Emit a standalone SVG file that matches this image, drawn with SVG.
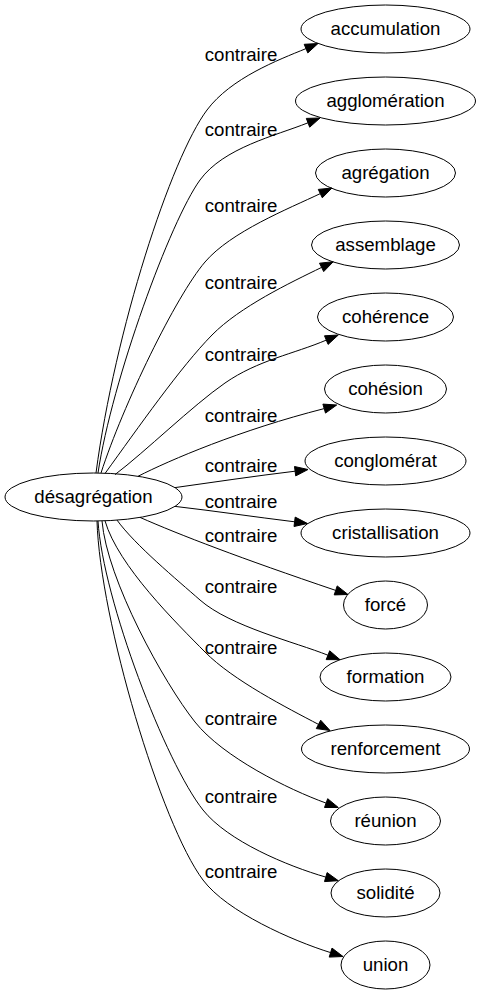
<svg xmlns="http://www.w3.org/2000/svg" width="481" height="995" viewBox="0 0 481 995">
<style>
.n ellipse{fill:none;stroke:#000;stroke-width:1}
text{font-family:"Liberation Sans",Arial,sans-serif;font-size:18.67px;fill:#000;text-anchor:middle}
.e path{fill:none;stroke:#000;stroke-width:1}
.e polygon{fill:#000;stroke:#000;stroke-width:1}
</style>
<rect width="481" height="995" fill="#fff"/>
<g id="edges" class="e">
<path d="M96,473 C115,330 171,158 207,110 C231,78 278,60 306,48.6"/>
<polygon points="318,43.5 304.2,44.3 307.8,52.9"/>
<text x="241" y="60.5">contraire</text>
<path d="M98,473 C112,380 170.5,220.5 200,180 C223.6,147.6 275.4,135.8 308,122.8"/>
<polygon points="320,118 306.3,118.4 309.7,127.2"/>
<text x="241" y="136">contraire</text>
<path d="M101,473 C123,405 175.8,296.2 205,262 C231,231.6 288.8,208.6 320.3,193.6"/>
<polygon points="332,188 318.3,189.4 322.3,197.8"/>
<text x="241" y="212">contraire</text>
<path d="M105,473.5 C138,428 180.5,367 212,335 C240,306.6 290,282.8 321.6,267.4"/>
<polygon points="333.3,261.7 319.5,263.2 323.7,271.6"/>
<text x="241" y="289">contraire</text>
<path d="M115,474.6 C145,452 192.2,405.8 225,383 C257.8,360.2 294.1,353.8 326.3,340.1"/>
<polygon points="338.3,335 324.5,335.8 328.1,344.4"/>
<text x="241" y="360.7">contraire</text>
<path d="M138,476.3 C170,460 240,430 324.2,408.6"/>
<polygon points="336.7,405 322.9,404.1 325.5,413.1"/>
<text x="241" y="421.7">contraire</text>
<path d="M175,487.6 C215,482 255,476 295.1,471.2"/>
<polygon points="308,469.5 294.5,466.5 295.7,475.9"/>
<text x="241" y="471.7">contraire</text>
<path d="M175,506.4 C215,511 255,517 294.6,521.8"/>
<polygon points="307.5,523.5 295.2,517.1 294,526.5"/>
<text x="241" y="508.3">contraire</text>
<path d="M140,517.4 C180,535 240,558 335.7,590.4"/>
<polygon points="348,594.5 337.2,585.9 334.2,594.9"/>
<text x="241" y="541.7">contraire</text>
<path d="M117,520.1 C135,545 177.5,580.2 200,600 C230,626.4 295.4,642.2 327.9,655.2"/>
<polygon points="340,659.7 329.7,650.8 326.2,659.6"/>
<text x="241" y="592.5">contraire</text>
<path d="M105,520.8 C118,566 177,623.6 205,652 C233,680.4 287.5,708.1 318.5,724.4"/>
<polygon points="330,730.5 320.7,720.2 316.3,728.6"/>
<text x="241" y="654">contraire</text>
<path d="M102,520.9 C107,580 164,683 195,722 C222.9,757.1 288.5,789.5 326.1,803.1"/>
<polygon points="338.3,807.5 327.7,798.7 324.5,807.5"/>
<text x="241" y="725">contraire</text>
<path d="M98,521 C103,600 165.8,763.2 203,810 C227.8,841.2 287.4,866 325.8,877.1"/>
<polygon points="338.3,880.7 327.1,872.6 324.5,881.6"/>
<text x="241" y="802.7">contraire</text>
<path d="M97,521 C100,620 161,824 203,880 C227,912 292.4,940.7 330.6,952.6"/>
<polygon points="343,956.5 332,948.1 329.2,957.1"/>
<text x="241" y="878.3">contraire</text>
</g>
<g id="n0" class="n"><ellipse cx="93.5" cy="497" rx="88.5" ry="24"/><text x="93.5" y="503">désagrégation</text></g>
<g id="n1" class="n"><ellipse cx="385.5" cy="29" rx="84.5" ry="24"/><text x="385.5" y="35">accumulation</text></g>
<g id="n2" class="n"><ellipse cx="385.5" cy="101" rx="90" ry="24"/><text x="385.5" y="107">agglomération</text></g>
<g id="n3" class="n"><ellipse cx="385.5" cy="173" rx="70" ry="24"/><text x="385.5" y="179">agrégation</text></g>
<g id="n4" class="n"><ellipse cx="385.5" cy="245" rx="74" ry="24"/><text x="385.5" y="251">assemblage</text></g>
<g id="n5" class="n"><ellipse cx="385.5" cy="317" rx="68" ry="24"/><text x="385.5" y="323">cohérence</text></g>
<g id="n6" class="n"><ellipse cx="385.5" cy="389" rx="61" ry="24"/><text x="385.5" y="395">cohésion</text></g>
<g id="n7" class="n"><ellipse cx="385.5" cy="461" rx="80.5" ry="24"/><text x="385.5" y="467">conglomérat</text></g>
<g id="n8" class="n"><ellipse cx="385.5" cy="533" rx="84.5" ry="24"/><text x="385.5" y="539">cristallisation</text></g>
<g id="n9" class="n"><ellipse cx="385.5" cy="605" rx="42" ry="24"/><text x="385.5" y="611">forcé</text></g>
<g id="n10" class="n"><ellipse cx="385.5" cy="677" rx="65.5" ry="24"/><text x="385.5" y="683">formation</text></g>
<g id="n11" class="n"><ellipse cx="385.5" cy="749" rx="84" ry="24"/><text x="385.5" y="755">renforcement</text></g>
<g id="n12" class="n"><ellipse cx="385.5" cy="821" rx="55" ry="24"/><text x="385.5" y="827">réunion</text></g>
<g id="n13" class="n"><ellipse cx="385.5" cy="893" rx="54.5" ry="24"/><text x="385.5" y="899">solidité</text></g>
<g id="n14" class="n"><ellipse cx="385.5" cy="965" rx="44.5" ry="24"/><text x="385.5" y="971">union</text></g>
</svg>
